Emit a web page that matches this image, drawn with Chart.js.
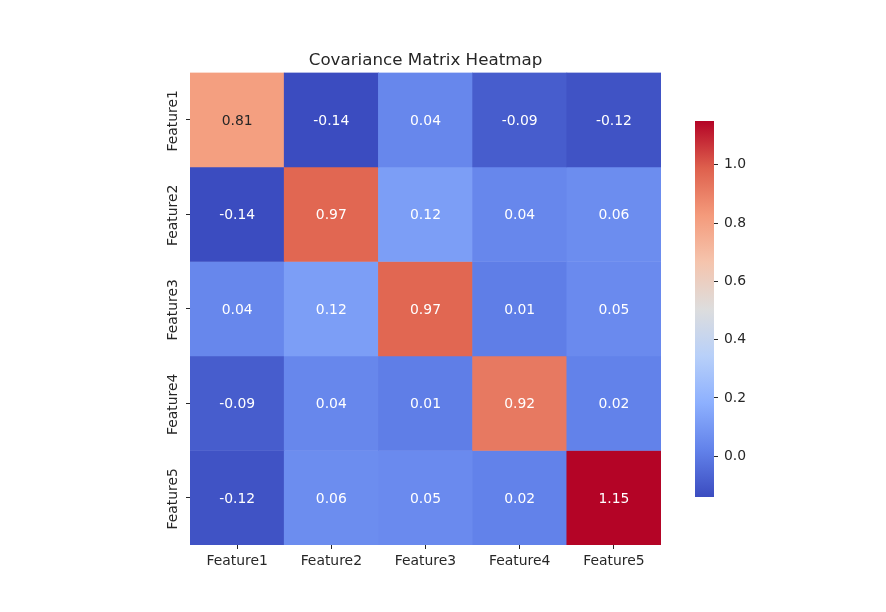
<!DOCTYPE html>
<html>
<head>
<meta charset="utf-8">
<script src="https://cdn.jsdelivr.net/npm/chart.js@4"></script>
<style>
  body { margin: 0; background: #fff; }
  #wrap { position: relative; width: 886px; height: 612px; }
  #wrap canvas { position: absolute; left: 0; top: 0; }
</style>
</head>
<body>
<div id="wrap">
  <canvas id="heat" width="886" height="612"></canvas>
  <canvas id="cbar" width="886" height="612"></canvas>
</div>
<script>
var features = ['Feature1', 'Feature2', 'Feature3', 'Feature4', 'Feature5']
var row1 = [0.81, -0.14, 0.04, -0.09, -0.12]
var row2 = [-0.14, 0.97, 0.12, 0.04, 0.06]
var row3 = [0.04, 0.12, 0.97, 0.01, 0.05]
var row4 = [-0.09, 0.04, 0.01, 0.92, 0.02]
var row5 = [-0.12, 0.06, 0.05, 0.02, 1.15]
var rows = [row1, row2, row3, row4, row5]
var cbTicks = [0.0, 0.2, 0.4, 0.6, 0.8, 1.0]

var vmin = Math.min.apply(null, rows.flat())
var vmax = Math.max.apply(null, rows.flat())

var FONT = 'DejaVu Sans'
var INK = '#262626'

// coolwarm, sampled
var coolwarm = [
    [0.0, [59, 76, 192]],
    [0.125, [98, 130, 234]],
    [0.25, [141, 176, 254]],
    [0.375, [184, 208, 249]],
    [0.5, [221, 221, 221]],
    [0.625, [245, 196, 173]],
    [0.75, [244, 154, 123]],
    [0.875, [222, 96, 77]],
    [1.0, [180, 4, 38]]
]

function cmapRgb(t) {
    t = Math.max(0, Math.min(1, t))
    for (let i = 1; i < coolwarm.length; i++) {
        if (t <= coolwarm[i][0]) {
            let a = coolwarm[i - 1], b = coolwarm[i]
            let f = (t - a[0]) / (b[0] - a[0])
            return [0, 1, 2].map(k => Math.round(a[1][k] + (b[1][k] - a[1][k]) * f))
        }
    }
    return coolwarm[coolwarm.length - 1][1]
}

function colorFor(v) {
    let c = cmapRgb((v - vmin) / (vmax - vmin))
    return 'rgb(' + c.join(',') + ')'
}

// same rule seaborn uses for annotation colour
function textColorFor(v) {
    let c = cmapRgb((v - vmin) / (vmax - vmin)).map(x => {
        x = x / 255
        return x <= 0.03928 ? x / 12.92 : Math.pow((x + 0.055) / 1.055, 2.4)
    })
    let lum = 0.2126 * c[0] + 0.7152 * c[1] + 0.0722 * c[2]
    return lum > 0.408 ? INK : '#ffffff'
}

var datasets = rows.map(function(r, i) {
    return {
        label: features[i],
        data: r.map(() => [i - 0.5, i + 0.5]),
        backgroundColor: r.map(colorFor),
        borderWidth: 0,
        barPercentage: 1,
        categoryPercentage: 1,
        grouped: false
    }
})

var cellLabels = {
    id: 'cellLabels',
    afterDatasetsDraw(chart) {
        let c = chart.ctx, xs = chart.scales.x, ys = chart.scales.y
        c.save()
        c.font = '13.9px "' + FONT + '"'
        c.textAlign = 'center'
        c.textBaseline = 'middle'
        rows.forEach(function(r, i) {
            r.forEach(function(v, j) {
                c.fillStyle = textColorFor(v)
                c.fillText(v.toFixed(2), xs.getPixelForValue(j), ys.getPixelForValue(i) + 1.5)
            })
        })
        // y tick labels, rotated like matplotlib
        c.fillStyle = INK
        features.forEach(function(f, i) {
            c.save()
            c.translate(chart.chartArea.left - 17, ys.getPixelForValue(i) + 1)
            c.rotate(-Math.PI / 2)
            c.fillText(f, 0, 0)
            c.restore()
        })
        c.restore()
    }
}

new Chart(document.getElementById('heat').getContext('2d'), {
    type: 'bar',
    data: { labels: features, datasets: datasets },
    plugins: [cellLabels],
    options: {
        responsive: false,
        animation: false,
        layout: { padding: { left: 150, right: 225, top: 50.5, bottom: 37 } },
        plugins: {
            legend: { display: false },
            tooltip: { enabled: false },
            title: {
                display: true,
                text: 'Covariance Matrix Heatmap',
                fullSize: false,
                color: INK,
                font: { family: FONT, size: 16.7, weight: 'normal' },
                padding: { top: 0, bottom: 2 }
            }
        },
        scales: {
            x: {
                grid: { offset: false, drawOnChartArea: false, tickLength: 4, color: INK },
                border: { display: false },
                ticks: { color: INK, padding: 4, font: { family: FONT, size: 13.9 } },
                afterFit: function(s) { s.height = 30 }
            },
            y: {
                type: 'linear',
                min: -0.5,
                max: 4.5,
                reverse: true,
                afterBuildTicks: function(s) { s.ticks = features.map((f, i) => ({ value: i })) },
                grid: { drawOnChartArea: false, tickLength: 4, color: INK },
                border: { display: false },
                ticks: { display: false },
                afterFit: function(s) { s.width = 40 }
            }
        }
    }
})

// colorbar
new Chart(document.getElementById('cbar').getContext('2d'), {
    type: 'bar',
    data: {
        labels: [''],
        datasets: [{
            data: [[vmin, vmax]],
            borderWidth: 0,
            barPercentage: 1,
            categoryPercentage: 1,
            backgroundColor: function(ctx) {
                let a = ctx.chart.chartArea
                if (!a) return null
                let g = ctx.chart.ctx.createLinearGradient(0, a.bottom, 0, a.top)
                coolwarm.forEach(s => g.addColorStop(s[0], 'rgb(' + s[1].join(',') + ')'))
                return g
            }
        }]
    },
    options: {
        responsive: false,
        animation: false,
        layout: { padding: { left: 695, right: 132, top: 121, bottom: 115 } },
        plugins: { legend: { display: false }, tooltip: { enabled: false } },
        scales: {
            x: { display: false },
            y: {
                position: 'right',
                min: vmin,
                max: vmax,
                afterBuildTicks: function(s) { s.ticks = cbTicks.map(v => ({ value: v })) },
                grid: { drawOnChartArea: false, tickLength: 4, color: INK },
                border: { display: false },
                ticks: {
                    color: INK,
                    padding: 6,
                    font: { family: FONT, size: 13.9 },
                    callback: function(v) { return v.toFixed(1) }
                },
                afterFit: function(s) { s.width = 40 }
            }
        }
    }
})
</script>
</body>
</html>
